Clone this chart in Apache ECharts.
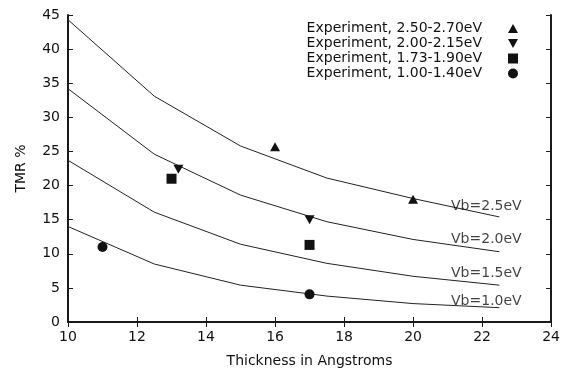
<!DOCTYPE html>
<html><head><meta charset="utf-8">
<script src="https://cdn.jsdelivr.net/npm/echarts@6/dist/echarts.min.js"></script>
<style>html,body{margin:0;padding:0;background:#fff}#c{width:563px;height:373px}</style>
</head><body><div id="c"></div>
<script>
var thickness = [10, 12.5, 15, 17.5, 20, 22.5];
var vb25 = [44.3, 33.1, 25.8, 21.1, 18.1, 15.4];
var vb20 = [34.2, 24.6, 18.6, 14.7, 12.1, 10.3];
var vb15 = [23.7, 16.1, 11.4, 8.6, 6.7, 5.4];
var vb10 = [14.0, 8.5, 5.4, 3.8, 2.7, 2.1];
var curveNames = ['Vb=2.5eV', 'Vb=2.0eV', 'Vb=1.5eV', 'Vb=1.0eV'];
var curveLabelX = [21.1, 21.1, 21.1, 21.1];
var curveLabelY = [17.0, 12.1, 7.1, 3.0];

var exp1Name = 'Experiment, 2.50-2.70eV';
var exp1X = [16, 20];
var exp1Y = [25.7, 18.0];
var exp2Name = 'Experiment, 2.00-2.15eV';
var exp2X = [13.2, 17];
var exp2Y = [22.4, 15.0];
var exp3Name = 'Experiment, 1.73-1.90eV';
var exp3X = [13, 17];
var exp3Y = [21.0, 11.3];
var exp4Name = 'Experiment, 1.00-1.40eV';
var exp4X = [11, 17];
var exp4Y = [11.0, 4.05];

var xTitle = 'Thickness in Angstroms';
var yTitle = 'TMR %';

function pairs(xs, ys){ return xs.map(function(x,i){return [x, ys[i]];}); }

var font = 'DejaVu Sans, sans-serif';
var textColor = '#111';

var chart = echarts.init(document.getElementById('c'), null, {renderer:'canvas'});
var curves = [vb25, vb20, vb15, vb10];
var series = [];
curves.forEach(function(c, i){
  series.push({
    type:'line', name: curveNames[i], data: pairs(thickness, c),
    symbol:'none', lineStyle:{color:'#222', width:1}, silent:true, z:2
  });
});
series.push({
  type:'scatter', name:'labels', symbolSize:0,
  data: curveNames.map(function(n,i){return {value:[curveLabelX[i], curveLabelY[i]], name:n};}),
  label:{show:true, position:'right', distance:0, formatter:function(p){return p.name;},
    fontFamily:font, fontSize:14, color:textColor},
  silent:true, z:5
});
var invTri = 'path://M0,0 L10,0 L5,9 Z';
var upTri = 'path://M5,0 L10,9 L0,9 Z';
var exps = [
  {name:exp1Name, x:exp1X, y:exp1Y, symbol:upTri, size:[10,9]},
  {name:exp2Name, x:exp2X, y:exp2Y, symbol:invTri, size:[10,9]},
  {name:exp3Name, x:exp3X, y:exp3Y, symbol:'rect', size:10},
  {name:exp4Name, x:exp4X, y:exp4Y, symbol:'circle', size:10}
];
exps.forEach(function(e){
  series.push({type:'scatter', name:e.name, data:pairs(e.x,e.y), symbol:e.symbol,
    symbolSize:e.size, itemStyle:{color:'#111', opacity:1}, z:4});
});

var axisLine = {show:true, lineStyle:{color:'#1a1a1a', width:2}};
var axisTick = {show:true, inside:true, length:5, lineStyle:{color:'#1a1a1a', width:1}};
chart.setOption({
  animation:false,
  backgroundColor:'#fff',
  grid:{left:68, right:9, top:15, bottom:51, containLabel:false},
  legend:{
    data:[exp1Name, exp2Name, exp3Name, exp4Name],
    orient:'vertical', align:'right', right:45, top:21, padding:0,
    itemGap:0, itemWidth:10, itemHeight:10,
    textStyle:{fontFamily:font, fontSize:14, lineHeight:15, color:textColor, padding:[0,21,0,0]},
    selectedMode:false
  },
  xAxis:[{
    type:'value', min:10, max:24, interval:2, position:'bottom',
    axisLine:axisLine, axisTick:axisTick, splitLine:{show:false},
    axisLabel:{fontFamily:font, fontSize:14, color:textColor, margin:8},
    name:xTitle, nameLocation:'middle', nameGap:32,
    nameTextStyle:{fontFamily:font, fontSize:14, color:textColor}
  },{
    type:'value', min:10, max:24, interval:2, position:'top',
    axisLine:axisLine, axisTick:axisTick, axisLabel:{show:false}, splitLine:{show:false}
  }],
  yAxis:[{
    type:'value', min:0, max:45, interval:5, position:'left',
    axisLine:axisLine, axisTick:axisTick, splitLine:{show:false},
    axisLabel:{fontFamily:font, fontSize:14, color:textColor, margin:8},
    name:yTitle, nameLocation:'middle', nameGap:40,
    nameTextStyle:{fontFamily:font, fontSize:14, color:textColor}
  },{
    type:'value', min:0, max:45, interval:5, position:'right',
    axisLine:axisLine, axisTick:axisTick, axisLabel:{show:false}, splitLine:{show:false}
  }],
  series:series
});
</script></body></html>
